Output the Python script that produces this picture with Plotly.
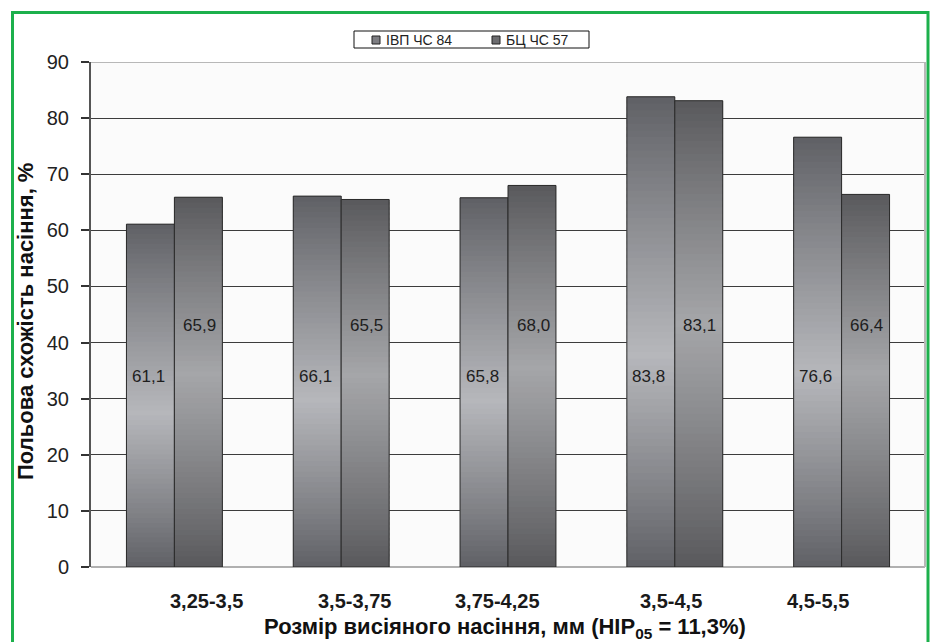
import plotly.graph_objects as go

# Seed-size fractions (mm) and field germination (%) for two varieties
categories = ["3,25-3,5", "3,5-3,75", "3,75-4,25", "3,5-4,5", "4,5-5,5"]
series_names = ["ІВП ЧС 84", "БЦ ЧС 57"]
ivp_values = [61.1, 66.1, 65.8, 83.8, 76.6]
bc_values = [65.9, 65.5, 68.0, 83.1, 66.4]
y_ticks = [0, 10, 20, 30, 40, 50, 60, 70, 80, 90]

x_title = "Розмір висіяного насіння, мм (НІР<sub>05</sub> = 11,3%)"
y_title = "Польова схожість насіння, %"

# ---- styling ----
W, H = 933, 642
ML, MR, MT, MB = 91, 8, 62, 75
PW, PH = W - ML - MR, H - MT - MB
FONT = "Liberation Sans, Arial, sans-serif"


def px(x):
    """Pixel column -> paper x."""
    return (x - ML) / PW


def py(y):
    """Pixel row -> paper y."""
    return (MT + PH - y) / PH


styles = [
    dict(dark=(94, 95, 100), light=(182, 183, 187), peak=0.45, group="a",
         label_y=34, label_shift=-26, swatch="#7d7d82"),
    dict(dark=(88, 88, 91), light=(165, 166, 169), peak=0.52, group="b",
         label_y=43, label_shift=25, swatch="#6c6c6f"),
]
tick_label_shift = [32, 13, -11, -4, -24]
N_SEG = 70


def shade(style, f):
    """Vertical gradient: dark at both ends, lightest at `peak` (from bottom)."""
    p = style["peak"]
    t = f / p if f <= p else (1 - f) / (1 - p)
    t = max(0.0, min(1.0, t)) ** 0.9
    c = [round(d + (l - d) * t) for d, l in zip(style["dark"], style["light"])]
    return "rgb({},{},{})".format(*c)


fig = go.Figure()

for values, name, st in zip([ivp_values, bc_values], series_names, styles):
    # gradient body: overlapping thin slices stacked up each bar
    for k in range(N_SEG):
        bases = [v * k / N_SEG for v in values]
        heights = [min(2.5 * v / N_SEG, v - b) for v, b in zip(values, bases)]
        fig.add_trace(go.Bar(
            x=categories, y=heights, base=bases, offsetgroup=st["group"],
            marker=dict(color=shade(st, (k + 0.5) / N_SEG), line=dict(width=0)),
            showlegend=False, hoverinfo="skip",
        ))
    # outline of the whole bar
    fig.add_trace(go.Bar(
        x=categories, y=values, offsetgroup=st["group"], name=name,
        marker=dict(color="rgba(0,0,0,0)", line=dict(color="#2a2a2a", width=1)),
        showlegend=False,
    ))
    # value labels
    for c, v in zip(categories, values):
        fig.add_annotation(
            x=c, y=st["label_y"], xref="x", yref="y", xshift=st["label_shift"],
            text=f"{v:.1f}".replace(".", ","), showarrow=False,
            font=dict(family=FONT, size=17, color="#1e1e1e"),
        )

# category labels
for c, dx in zip(categories, tick_label_shift):
    fig.add_annotation(
        x=c, y=0, xref="x", yref="paper", yanchor="middle", yshift=-34, xshift=dx,
        text=c, showarrow=False,
        font=dict(family=FONT, size=20, color="#1a1a1a", weight="bold"),
    )

# axis titles
fig.add_annotation(
    x=px(505), y=0, xref="paper", yref="paper", xanchor="center",
    yanchor="middle", yshift=-61, text=x_title, showarrow=False,
    font=dict(family=FONT, size=22, color="#111", weight="bold"),
)
fig.add_annotation(
    x=px(25), y=py(322), xref="paper", yref="paper", xanchor="center",
    yanchor="middle", textangle=-90, text=y_title, showarrow=False,
    font=dict(family=FONT, size=22, color="#111", weight="bold"),
)

# legend box
fig.add_shape(type="rect", xref="paper", yref="paper",
              x0=px(354), x1=px(589), y0=py(31), y1=py(48),
              line=dict(color="#111", width=1), fillcolor="white")
for name, st, sx in zip(series_names, styles, [372, 492]):
    fig.add_shape(type="rect", xref="paper", yref="paper",
                  x0=px(sx), x1=px(sx + 8), y0=py(36), y1=py(44),
                  line=dict(color="#222", width=1), fillcolor=st["swatch"])
    fig.add_annotation(
        x=px(sx + 12), y=py(40), xref="paper", yref="paper",
        xanchor="left", yanchor="middle", text=name, showarrow=False,
        font=dict(family=FONT, size=14, color="#222"),
    )

# plot frame pieces and outer green border
fig.add_shape(type="line", xref="paper", yref="y", x0=0, x1=1, y0=90, y1=90,
              line=dict(color="#b8b8b8", width=2), layer="above")
fig.add_shape(type="line", xref="paper", yref="paper", x0=1, x1=1, y0=0, y1=1,
              line=dict(color="#b8b8b8", width=2), layer="above")
fig.add_shape(type="rect", xref="paper", yref="paper",
              x0=px(12.5), x1=px(928), y0=py(12.5), y1=py(H + 20),
              line=dict(color="#1cb04c", width=3), layer="above")

fig.update_layout(
    width=W, height=H,
    margin=dict(l=ML, r=MR, t=MT, b=MB, pad=0),
    paper_bgcolor="white", plot_bgcolor="#fbfbfb",
    barmode="group", bargap=0.425, bargroupgap=0,
    font=dict(family=FONT, color="#222"),
    showlegend=False,
    xaxis=dict(showticklabels=False, ticks="", showgrid=False,
               showline=False, zeroline=False),
    yaxis=dict(
        range=[0, 90], tickvals=y_ticks, ticks="outside", ticklen=8,
        tickwidth=1.5, tickcolor="#333", ticklabelstandoff=8,
        tickfont=dict(family=FONT, size=20, color="#222"),
        showgrid=True, gridcolor="#3c3c3c", gridwidth=1,
        zeroline=True, zerolinecolor="#b0b0b0", zerolinewidth=2,
        showline=True, linecolor="#555", linewidth=2,
    ),
)

fig.write_html("out.html")
